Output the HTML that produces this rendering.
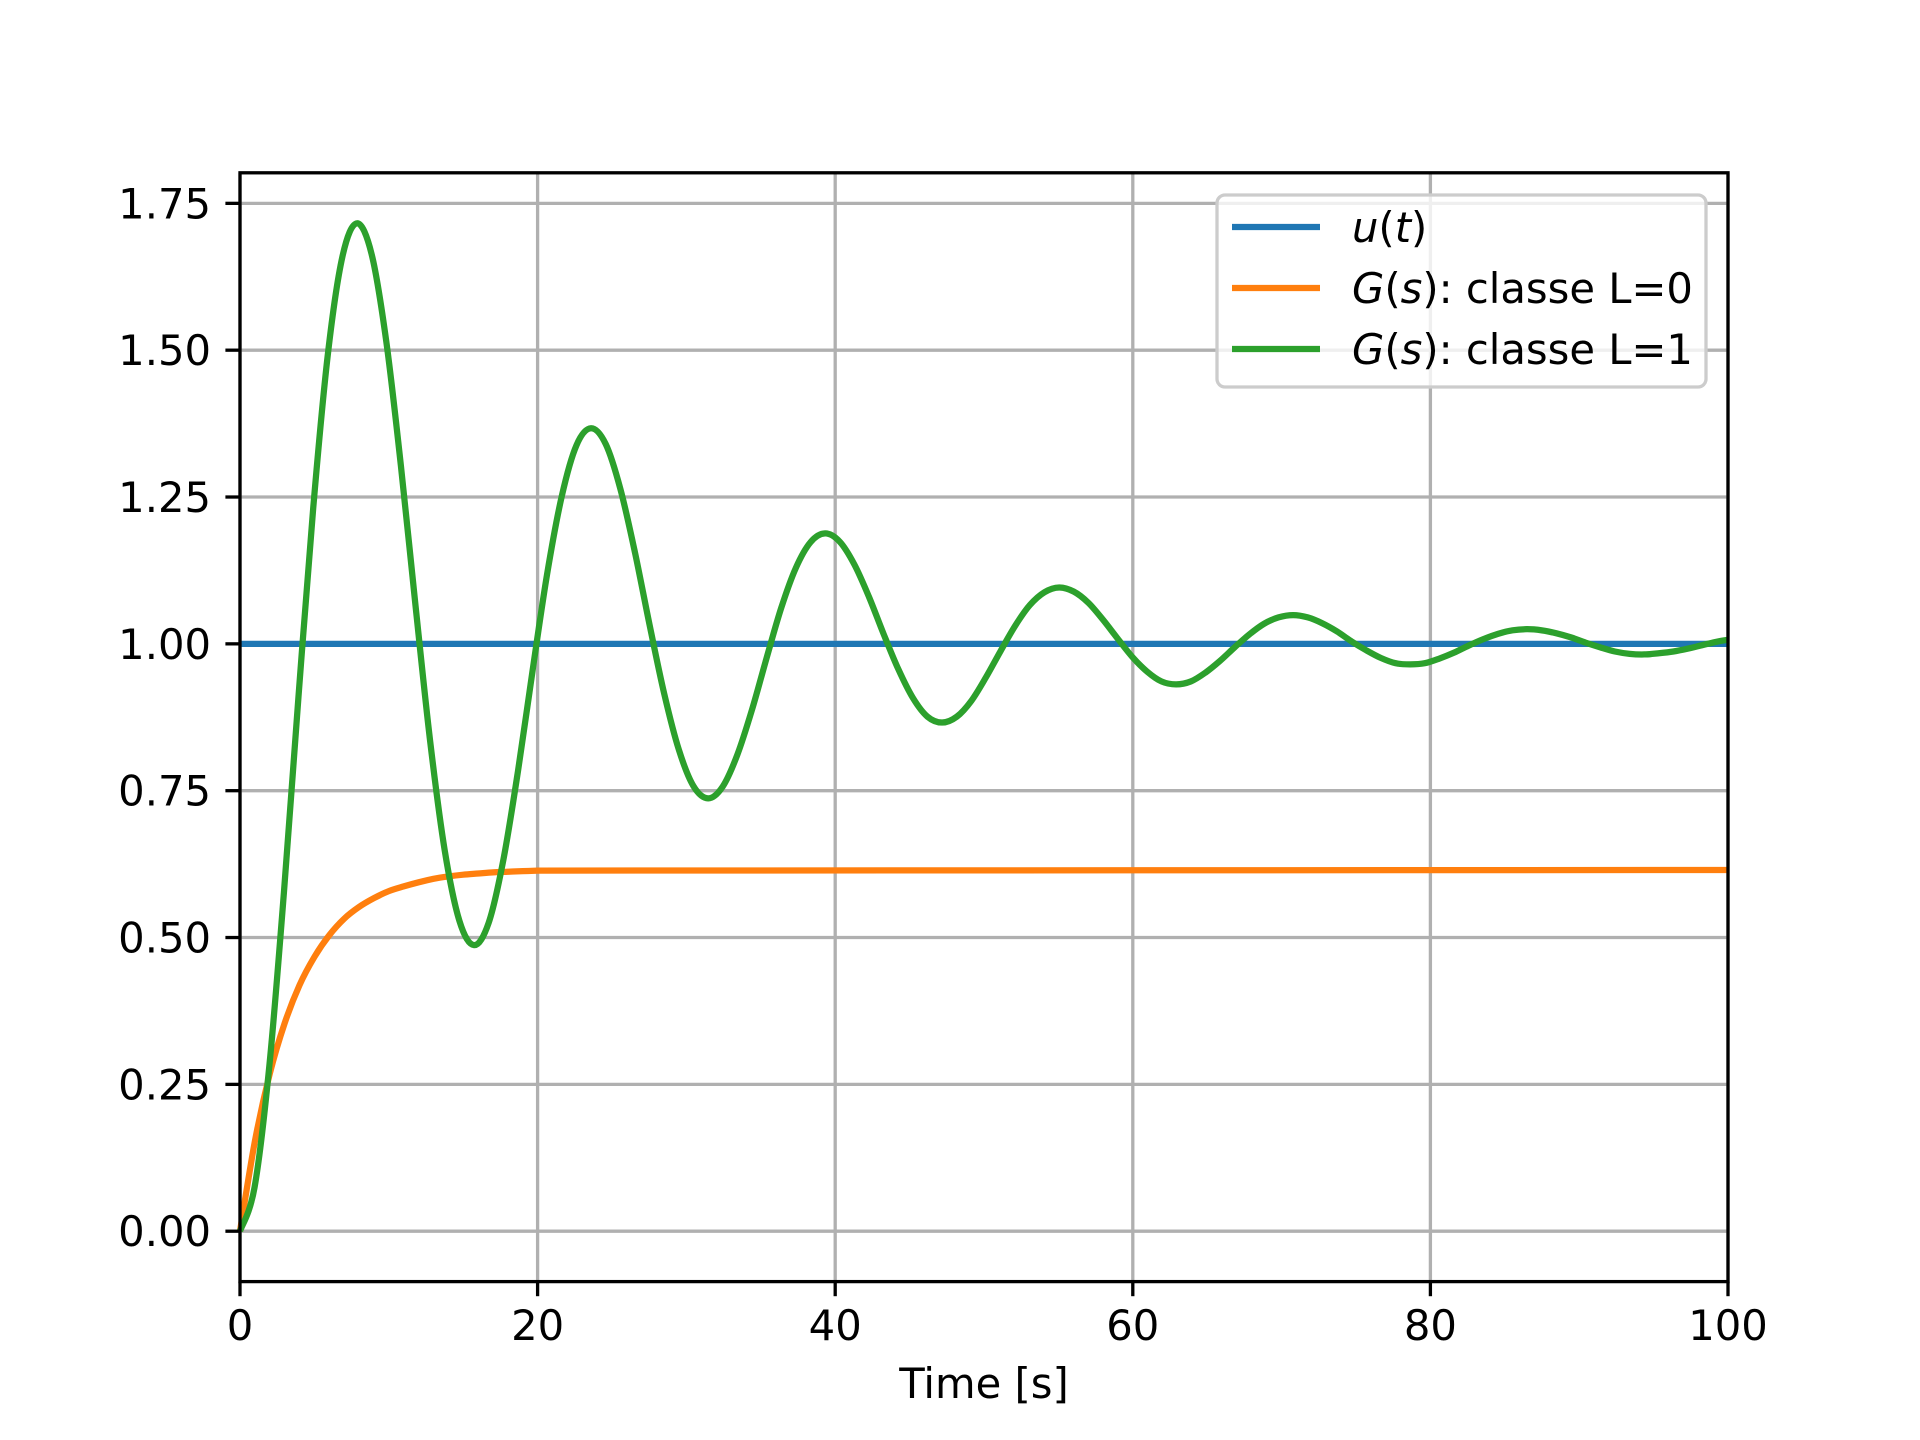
<!DOCTYPE html>
<html><head><meta charset="utf-8"><style>
html,body{margin:0;padding:0;background:#fff;}
svg{display:block;font-family:"DejaVu Sans","Liberation Sans",sans-serif;}
</style></head><body>
<svg id="chart" width="1920" height="1440" viewBox="0 0 1920 1440" xmlns="http://www.w3.org/2000/svg">
<rect x="0" y="0" width="1920" height="1440" fill="#fff"/>
<g id="grid"></g>
<g id="series"></g>
<rect x="240" y="172.8" width="1488" height="1108.8" fill="none" stroke="#000" stroke-width="3.3"/>
<g id="ticks"></g>
<text x="984" y="1398" font-size="41.7" text-anchor="middle">Time [s]</text>
<g>
<rect x="1217" y="195" width="489" height="192" rx="8" fill="#fff" fill-opacity="0.8" stroke="#cccccc" stroke-width="3.3"/>
<line x1="1232" y1="227" x2="1320" y2="227" stroke="#1f77b4" stroke-width="6.25"/>
<text x="1352" y="242" font-size="41.7"><tspan font-style="italic">u</tspan>(<tspan font-style="italic">t</tspan>)</text>
<line x1="1232" y1="288" x2="1320" y2="288" stroke="#ff7f0e" stroke-width="6.25"/>
<text x="1352" y="303" font-size="41.7"><tspan font-style="italic">G</tspan>(<tspan font-style="italic">s</tspan>): classe L=0</text>
<line x1="1232" y1="349" x2="1320" y2="349" stroke="#2ca02c" stroke-width="6.25"/>
<text x="1352" y="364" font-size="41.7"><tspan font-style="italic">G</tspan>(<tspan font-style="italic">s</tspan>): classe L=1</text>
</g>
</svg>
<script>
const xTicks = [0, 20, 40, 60, 80, 100];
const yTicks = [0, 0.25, 0.5, 0.75, 1.0, 1.25, 1.5, 1.75];
const yTickLabels = ["0.00","0.25","0.50","0.75","1.00","1.25","1.50","1.75"];
const uTime = [0, 100];
const uValues = [1, 1];
const l0Time = [0,1,2,3,4,5,6,7,8,9,10,11,12,13,14,15,16,17,18,19,20,100];
const l0Values = [0,.153,.268,.354,.419,.467,.504,.532,.552,.567,.579,.587,.594,.600,.604,.607,.609,.611,.612,.613,.614,.615];
const l1Time = [0,0.98,1.97,2.95,3.93,4.92,5.9,6.88,7.86,8.85,9.83,10.81,11.8,12.78,13.76,14.75,15.73,16.71,17.69,18.68,19.66,20.64,21.63,22.61,23.59,24.58,25.56,26.54,27.52,28.51,29.49,30.47,31.46,32.44,33.42,34.41,35.39,36.37,37.35,38.34,39.32,40.3,41.29,42.27,43.25,44.24,45.22,46.2,47.18,48.17,49.15,50.13,51.12,52.1,53.08,54.07,55.05,56.03,57.01,58,58.98,59.96,60.95,61.93,62.91,63.9,64.88,65.86,66.84,67.83,68.81,69.79,70.78,71.76,72.74,73.73,74.71,75.69,76.67,77.66,78.64,79.62,80.61,81.59,82.57,83.56,84.54,85.52,86.5,87.49,88.47,89.45,90.44,91.42,92.4,93.39,94.37,95.35,96.33,97.32,98.3,99.3,100];
const l1Values = [0,.075,.281,.576,.910,1.231,1.492,1.659,1.716,1.663,1.515,1.304,1.064,.834,.648,.528,.487,.525,.631,.783,.954,1.119,1.252,1.338,1.367,1.340,1.264,1.156,1.033,.915,.820,.758,.737,.757,.811,.888,.976,1.061,1.129,1.173,1.188,1.174,1.135,1.080,1.017,.957,.908,.876,.866,.876,.903,.943,.988,1.031,1.066,1.088,1.096,1.089,1.070,1.041,1.009,.978,.953,.936,.931,.936,.951,.971,.994,1.016,1.034,1.045,1.049,1.045,1.035,1.021,1.004,.989,.976,.967,.965,.967,.975,.985,.997,1.008,1.017,1.023,1.025,1.023,1.018,1.011,1.002,.994,.987,.983,.982,.984,.987,.992,.998,1.004,1.007];

const X0=240,X1=1728,Y0=1281.6,Y1=172.8, xmin=0,xmax=100,ymin=-0.0858,ymax=1.802;
const sx=t=>X0+(t-xmin)/(xmax-xmin)*(X1-X0);
const sy=v=>Y0-(v-ymin)/(ymax-ymin)*(Y0-Y1);
const NS="http://www.w3.org/2000/svg";
function mk(tag, attrs){const e=document.createElementNS(NS,tag);for(const k in attrs)e.setAttribute(k,attrs[k]);return e;}
const grid=document.getElementById('grid'), ticks=document.getElementById('ticks'), series=document.getElementById('series');
xTicks.forEach(t=>{
  const g=mk('line',{x1:sx(t),x2:sx(t),y1:Y1,y2:Y0,stroke:'#b0b0b0','stroke-width':3.3});
  
  
  grid.appendChild(g);
  const tk=mk('line',{x1:sx(t),x2:sx(t),y1:Y0,y2:Y0+14.6,stroke:'#000','stroke-width':3.3});
  
  
  ticks.appendChild(tk);
  const lb=mk('text',{x:sx(t),y:1340,'font-size':41.7,'text-anchor':'middle'});
  lb.textContent=String(t);
  
  
  ticks.appendChild(lb);
});
yTicks.forEach((v,i)=>{
  const g=mk('line',{x1:X0,x2:X1,y1:sy(v),y2:sy(v),stroke:'#b0b0b0','stroke-width':3.3});
  
  
  grid.appendChild(g);
  const tk=mk('line',{x1:X0-14.6,x2:X0,y1:sy(v),y2:sy(v),stroke:'#000','stroke-width':3.3});
  
  
  ticks.appendChild(tk);
  const lb=mk('text',{x:211,y:sy(v)+15,'font-size':41.7,'text-anchor':'end'});
  lb.textContent=yTickLabels[i];
  
  
  ticks.appendChild(lb);
});
function smoothPath(ts,vs){
  const p=ts.map((t,i)=>[sx(t),sy(vs[i])]);
  let d='M'+p[0][0]+','+p[0][1];
  for(let i=0;i<p.length-1;i++){
    const p0=p[i-1]||p[i],p1=p[i],p2=p[i+1],p3=p[i+2]||p2;
    const c1=[p1[0]+(p2[0]-p0[0])/6,p1[1]+(p2[1]-p0[1])/6];
    const c2=[p2[0]-(p3[0]-p1[0])/6,p2[1]-(p3[1]-p1[1])/6];
    d+=` C${c1[0]},${c1[1]} ${c2[0]},${c2[1]} ${p2[0]},${p2[1]}`;
  }
  return d;
}
function linePath(ts,vs){return ts.map((t,i)=>(i?'L':'M')+sx(t)+','+sy(vs[i])).join(' ');}
const u=mk('path',{d:linePath(uTime,uValues),fill:'none',stroke:'#1f77b4','stroke-width':6.25});


series.appendChild(u);
const l0=mk('path',{d:smoothPath(l0Time.slice(0,-1),l0Values.slice(0,-1))+' L'+sx(l0Time[l0Time.length-1])+','+sy(l0Values[l0Values.length-1]),fill:'none',stroke:'#ff7f0e','stroke-width':6.25});


series.appendChild(l0);
const l1=mk('path',{d:smoothPath(l1Time,l1Values),fill:'none',stroke:'#2ca02c','stroke-width':6.25,'stroke-linejoin':'round'});


series.appendChild(l1);
</script>
</body></html>
